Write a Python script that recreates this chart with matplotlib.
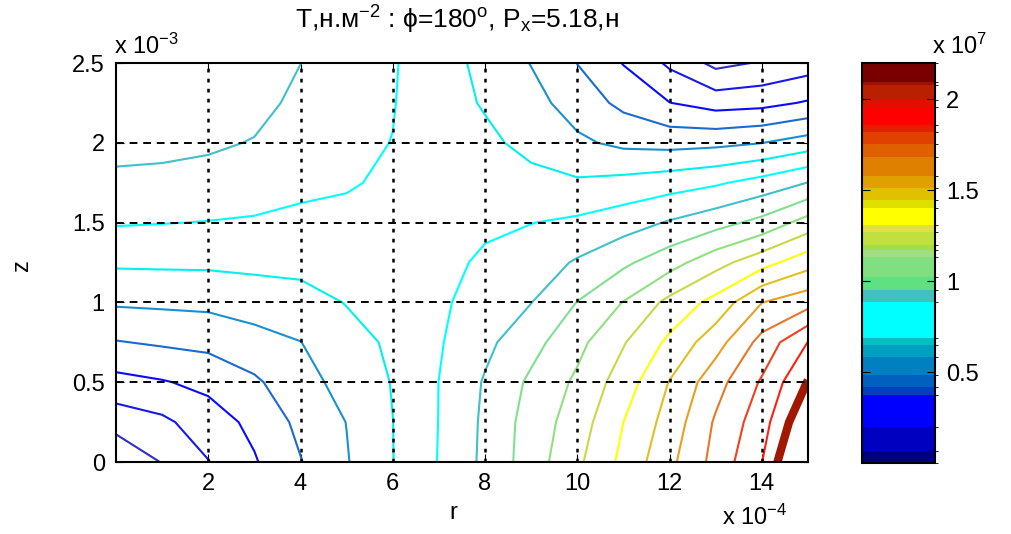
import numpy as np
import matplotlib
matplotlib.use('Agg')
import matplotlib.pyplot as plt
from matplotlib.colors import ListedColormap, BoundaryNorm
from matplotlib.cm import ScalarMappable

plt.rcParams['font.family'] = ['Liberation Sans', 'DejaVu Sans']
plt.rcParams['mathtext.fontset'] = 'custom'
plt.rcParams['mathtext.rm'] = 'Liberation Sans'
plt.rcParams['mathtext.it'] = 'Liberation Sans:italic'

# grid: r in units of 1e-4, z in units of 1e-3, T in units of 1e7
r = [0, 1, 2, 3, 4, 5, 6, 7, 8, 9, 10, 11, 12, 13, 14, 15]
z = [0, 0.25, 0.5, 0.75, 1.0, 1.25, 1.5, 1.75, 2.0, 2.25, 2.5]
T = [
    [0.010, 0.115, 0.216, 0.320, 0.435, 0.543, 0.658, 0.775, 0.904, 1.045, 1.188, 1.349, 1.513, 1.687, 1.868, 2.200],
    [0.154, 0.197, 0.278, 0.357, 0.467, 0.552, 0.659, 0.772, 0.900, 1.037, 1.154, 1.320, 1.474, 1.664, 1.822, 2.090],
    [0.295, 0.322, 0.358, 0.423, 0.508, 0.589, 0.665, 0.771, 0.890, 1.011, 1.120, 1.263, 1.435, 1.608, 1.773, 1.985],
    [0.434, 0.454, 0.470, 0.509, 0.548, 0.626, 0.675, 0.760, 0.854, 0.952, 1.069, 1.202, 1.344, 1.495, 1.687, 1.872],
    [0.564, 0.570, 0.576, 0.601, 0.622, 0.664, 0.690, 0.750, 0.821, 0.878, 0.993, 1.104, 1.240, 1.357, 1.538, 1.608],
    [0.677, 0.679, 0.680, 0.686, 0.689, 0.703, 0.705, 0.735, 0.789, 0.824, 0.892, 0.969, 1.057, 1.170, 1.278, 1.388],
    [0.779, 0.773, 0.767, 0.760, 0.751, 0.742, 0.720, 0.720, 0.749, 0.768, 0.790, 0.832, 0.890, 0.949, 1.023, 1.146],
    [0.853, 0.846, 0.834, 0.818, 0.790, 0.780, 0.752, 0.710, 0.715, 0.688, 0.674, 0.693, 0.721, 0.755, 0.810, 0.882],
    [0.920, 0.915, 0.900, 0.873, 0.820, 0.793, 0.768, 0.705, 0.681, 0.632, 0.570, 0.525, 0.513, 0.523, 0.548, 0.600],
    [0.950, 0.945, 0.930, 0.920, 0.850, 0.811, 0.775, 0.703, 0.651, 0.588, 0.500, 0.413, 0.332, 0.284, 0.297, 0.341],
    [0.970, 0.965, 0.950, 0.940, 0.881, 0.829, 0.779, 0.707, 0.630, 0.546, 0.438, 0.325, 0.200, 0.080, 0.120, 0.165],
]
levels = [0.11, 0.22, 0.33, 0.44, 0.55, 0.66, 0.77, 0.88, 0.99,
          1.10, 1.21, 1.32, 1.43, 1.54, 1.65, 1.76, 1.87, 1.98]

x_ticks = [2, 4, 6, 8, 10, 12, 14]
y_ticks = [0, 0.5, 1, 1.5, 2, 2.5]
y_ticklabels = ['0', '0.5', '1', '1.5', '2', '2.5']
cb_ticks = [0.5, 1, 1.5, 2]
cb_ticklabels = ['0.5', '1', '1.5', '2']

# colorbar bands as they appear in the picture
cb_bounds = [0, 0.065, 0.197, 0.373, 0.417, 0.483, 0.582, 0.648, 0.686, 0.884,
             0.95, 1.022, 1.132, 1.17, 1.198, 1.27, 1.308, 1.402, 1.446, 1.512,
             1.578, 1.682, 1.754, 1.82, 1.858, 1.958, 1.996, 2.079, 2.095, 2.2]
cb_colors = ['#000080', '#0000c0', '#0000ff', '#0040c0', '#0060c0', '#0080c0',
             '#00a0c0', '#00c0c0', '#00ffff', '#40c0c0', '#60e080', '#80e080',
             '#a0e080', '#a0e040', '#c0e040', '#e0e040', '#ffff00', '#e0e000',
             '#e0c000', '#e0a000', '#e08000', '#e06000', '#e04000', '#e02000',
             '#ff0000', '#e01000', '#b82000', '#a01000', '#780000']

line_colors = ['#3030c0', '#1818e8', '#0a0aff', '#1a6ad0', '#1a90d0', '#00f0f0',
               '#00ffff', '#40c0c8', '#80e090', '#90e080', '#c8d848', '#ffff00',
               '#e0c020', '#e8a020', '#e87828', '#f04020', '#ff2010', '#a01800']
line_widths = [1.5] * 17 + [6]

fig = plt.figure(figsize=(10.11, 5.34), dpi=100)
ax = fig.add_axes([0.1147, 0.1348, 0.6845, 0.7472])

ax.contour(r, z, np.array(T), levels=levels, colors=line_colors, linewidths=line_widths)

ax.set_xlim(0, 15)
ax.set_ylim(0, 2.5)
ax.set_xticks(x_ticks)
ax.set_yticks(y_ticks)
ax.set_yticklabels(y_ticklabels)
ax.tick_params(direction='in', length=6, top=True, right=True, labelsize=17, pad=8)

for xt in x_ticks:
    ax.axvline(xt, color='k', ls=(0, (1.5, 2.5)), lw=1.8, zorder=3)
for yt in y_ticks[1:-1]:
    ax.axhline(yt, color='k', ls=(0, (4, 3)), lw=1.4, zorder=3)
for s in ax.spines.values():
    s.set_linewidth(1.5)

fig.text(0.452, 0.962, 'T,н.м$^{-2}$ : ϕ=180$^{\\mathrm{o}}$, P$_{\\mathrm{x}}$=5.18,н',
         fontsize=19, ha='center', va='center')
fig.text(0.113, 0.914, 'x 10$^{-3}$', fontsize=17, ha='left', va='center')
fig.text(0.714, 0.032, 'x 10$^{-4}$', fontsize=17, ha='left', va='center')
fig.text(0.022, 0.504, 'z', fontsize=17, rotation=90, ha='center', va='center')
fig.text(0.448, 0.04, 'r', fontsize=17, ha='center', va='center')

cax = fig.add_axes([0.8526, 0.133, 0.0722, 0.749])
cmap = ListedColormap(cb_colors)
norm = BoundaryNorm(cb_bounds, len(cb_colors))
cb = fig.colorbar(ScalarMappable(norm=norm, cmap=cmap), cax=cax,
                  spacing='proportional', ticks=cb_ticks)
cb.ax.set_yticklabels(cb_ticklabels)
cb.ax.tick_params(direction='in', left=True, right=True, length=6, labelsize=17, pad=8)
cb.outline.set_linewidth(1.5)
fig.text(0.922, 0.914, 'x 10$^{7}$', fontsize=17, ha='left', va='center')

fig.savefig('out.png', dpi=100)
